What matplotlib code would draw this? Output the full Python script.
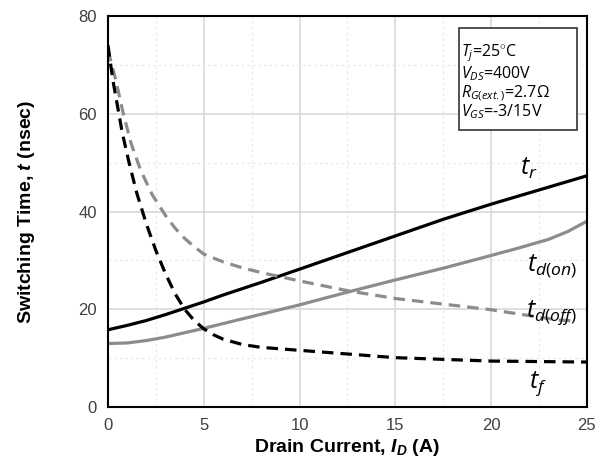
import numpy as np
import matplotlib.pyplot as plt
from matplotlib.ticker import MultipleLocator
from matplotlib.patches import Rectangle

plt.rcParams['font.family'] = ['Liberation Sans', 'DejaVu Sans']
plt.rcParams['mathtext.fontset'] = 'custom'
plt.rcParams['mathtext.rm'] = 'Open Sans'
plt.rcParams['mathtext.it'] = 'Open Sans:italic'
plt.rcParams['mathtext.bf'] = 'Liberation Sans:bold:italic'

# data
tr_x = [0, 1, 2, 3, 4, 5, 6, 8, 10, 12.5, 15, 17.5, 20, 22.5, 25]
tr_y = [15.8, 16.7, 17.7, 18.9, 20.2, 21.5, 22.9, 25.5, 28.2, 31.6, 35.0, 38.4, 41.5, 44.4, 47.3]

tdon_x = [0, 1, 2, 3, 4, 5, 7.5, 10, 12.5, 15, 17.5, 20, 21.5, 23, 24, 25]
tdon_y = [13.0, 13.1, 13.6, 14.3, 15.2, 16.1, 18.5, 20.9, 23.5, 26.0, 28.4, 31.0, 32.6, 34.3, 35.9, 38.0]

tdoff_x = [0, 0.4, 0.8, 1.2, 1.7, 2.3, 3, 3.5, 4, 4.5, 5, 6, 7, 8, 10, 12.5, 15, 18.5, 20, 22, 23.5, 24.5]
tdoff_y = [73.0, 67.0, 60.0, 54.0, 48.5, 43.5, 39.2, 36.6, 34.5, 32.8, 31.3, 29.7, 28.5, 27.5, 25.8, 23.8, 22.2, 20.6, 19.9, 18.7, 17.8, 17.6]

tf_x = [0, 0.25, 0.75, 1.1, 1.5, 2, 2.5, 3, 3.5, 4, 4.5, 5, 5.5, 6, 7, 8, 10, 12, 15, 20, 25]
tf_y = [74.0, 67.0, 56.0, 50.0, 43.8, 37.5, 32.0, 27.3, 23.2, 20.0, 17.7, 16.0, 14.8, 13.9, 12.8, 12.2, 11.6, 11.0, 10.1, 9.4, 9.2]

conditions = ['$T_j$=25$^{\\circ}$C', '$V_{DS}$=400V', '$R_{G(ext.)}$=2.7Ω', '$V_{GS}$=-3/15V']

fig = plt.figure(figsize=(6.05, 4.70), dpi=100)
ax = fig.add_axes([0.1785, 0.134, 0.7915, 0.832])

ax.plot(tr_x, tr_y, color='black', lw=2.3)
ax.plot(tdon_x, tdon_y, color='#8c8c8c', lw=2.3)
ax.plot(tdoff_x, tdoff_y, color='#8c8c8c', lw=2.3, dashes=(3.6, 2.2))
ax.plot(tf_x, tf_y, color='black', lw=2.3, dashes=(3.6, 2.2))

ax.set_xlim(0, 25)
ax.set_ylim(0, 80)
ax.xaxis.set_major_locator(MultipleLocator(5))
ax.yaxis.set_major_locator(MultipleLocator(20))
ax.xaxis.set_minor_locator(MultipleLocator(2.5))
ax.yaxis.set_minor_locator(MultipleLocator(10))
ax.grid(which='major', color='#d9d9d9', lw=1.2)
ax.grid(which='minor', color='#ececec', lw=1.0, ls=(0, (2, 2)))
ax.set_axisbelow(True)
ax.tick_params(which='both', length=0, labelsize=12, colors='#404040', pad=8)
for s in ax.spines.values():
    s.set_linewidth(1.5)
    s.set_color('black')

ax.set_xlabel(r'Drain Current, $\mathbf{I_D}$ (A)', fontsize=14, fontweight='bold', labelpad=3)
ax.set_ylabel(r'Switching Time, $\mathbf{t}$ (nsec)', fontsize=14, fontweight='bold', labelpad=30)

lab = dict(fontsize=18, family='Open Sans')
ax.text(21.5, 47.5, r'$t_r$', **lab)
ax.text(21.9, 28.0, r'$t_{d(on)}$', **lab)
ax.text(21.8, 18.5, r'$t_{d(off)}$', **lab)
ax.text(22.0, 4.0, r'$t_f$', **lab)

# condition box
ax.add_patch(Rectangle((18.3, 56.7), 6.2, 20.9, fc='white', ec='#333333', lw=1.2, zorder=4))
ax.text(18.45, 74.6, '\n'.join(conditions), fontsize=11.5, family='Open Sans',
        va='top', linespacing=1.0, zorder=5)

fig.savefig('out.png', dpi=100)
